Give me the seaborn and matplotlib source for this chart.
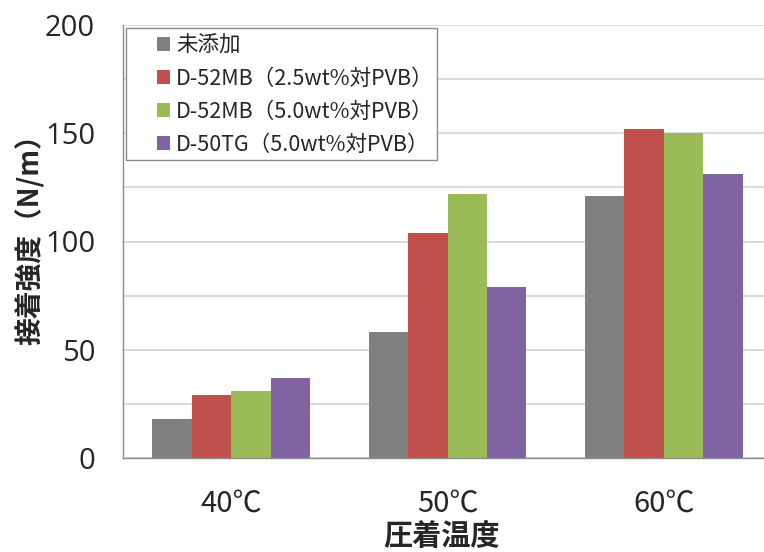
import matplotlib
matplotlib.use("Agg")
import matplotlib.pyplot as plt
import seaborn as sns
import pandas as pd
from matplotlib.ticker import MultipleLocator
from matplotlib.patches import Rectangle

categories = ["40℃", "50℃", "60℃"]
series_names = ["未添加", "D-52MB（2.5wt%対PVB）", "D-52MB（5.0wt%対PVB）", "D-50TG（5.0wt%対PVB）"]
v_none = [18, 58, 121]
v_52mb_25 = [29, 104, 152]
v_52mb_50 = [31, 122, 150]
v_50tg_50 = [37, 79, 131]
colors = ["#808080", "#C0504D", "#9BBB59", "#8064A2"]
y_ticks = [0, 50, 100, 150, 200]

rows = []
for name, vals in zip(series_names, [v_none, v_52mb_25, v_52mb_50, v_50tg_50]):
    for c, v in zip(categories, vals):
        rows.append({"temp": c, "series": name, "value": v})
df = pd.DataFrame(rows)

sns.set_theme(style="white")
plt.rcParams['font.family'] = ['Noto Sans CJK JP', 'DejaVu Sans']

W, H = 764, 552
fig = plt.figure(figsize=(W/100, H/100), dpi=100)
ax = fig.add_axes([123/W, 1-458/H, (772-123)/W, (458-25)/H])

sns.barplot(data=df, x="temp", y="value", hue="series", hue_order=series_names,
            order=categories, palette=colors, width=0.73, ax=ax,
            edgecolor="none", linewidth=0, saturation=1, errorbar=None)

ax.set_xlim(-0.5, 2.5)
ax.set_ylim(0, 200)
ax.set_yticks(y_ticks)
ax.yaxis.set_minor_locator(MultipleLocator(25))
ax.grid(axis="y", which="both", color="#d4d4d4", linewidth=1.2, zorder=0)
ax.set_axisbelow(True)
for s in ["top", "right"]:
    ax.spines[s].set_visible(False)
for s in ["left", "bottom"]:
    ax.spines[s].set_color("#8c8c8c")
    ax.spines[s].set_linewidth(1.0)

ax.tick_params(axis="y", which="major", direction="out", length=9, width=1, color="#8c8c8c",
               labelsize=21, pad=11)
for t in ax.get_yticklabels():
    t.set_family(['Open Sans', 'Noto Sans CJK JP'])
ax.tick_params(axis="y", which="minor", length=0)
ax.set_xticks([0, 1, 2])
ax.set_xticklabels(categories)
ax.tick_params(axis="x", which="major", length=0, labelsize=21, pad=22)
ax.set_xticks([-0.5, 0.5, 1.5], minor=True)
ax.tick_params(axis="x", which="minor", direction="out", length=10, width=1, color="#8c8c8c")

ax.set_ylabel("接着強度（N/m）", fontsize=20, fontweight="bold")
ax.yaxis.set_label_coords(-0.12, 0.52)
ax.set_xlabel("圧着温度", fontsize=21, fontweight="bold")
ax.xaxis.set_label_coords((442-123)/649, -(521-458)/433)
ax.xaxis.label.set_va("top")

# legend frame drawn as a rectangle in figure pixels
ax.add_patch(Rectangle((126/W, 1-160/H), (437-126)/W, (160-28)/H,
                       transform=fig.transFigure, facecolor="white", clip_on=False,
                       edgecolor="#8c8c8c", linewidth=1.0, zorder=4))
leg = ax.legend(loc="upper left", bbox_to_anchor=(153/W, 1-30/H), bbox_transform=fig.transFigure,
                borderaxespad=0, fontsize=15.5, frameon=False,
                handlelength=0.6, handleheight=0.6, handletextpad=0.28, labelspacing=0.52,
                borderpad=0.2, title=None)
leg.set_zorder(10)

fig.savefig("out.png", dpi=100)
